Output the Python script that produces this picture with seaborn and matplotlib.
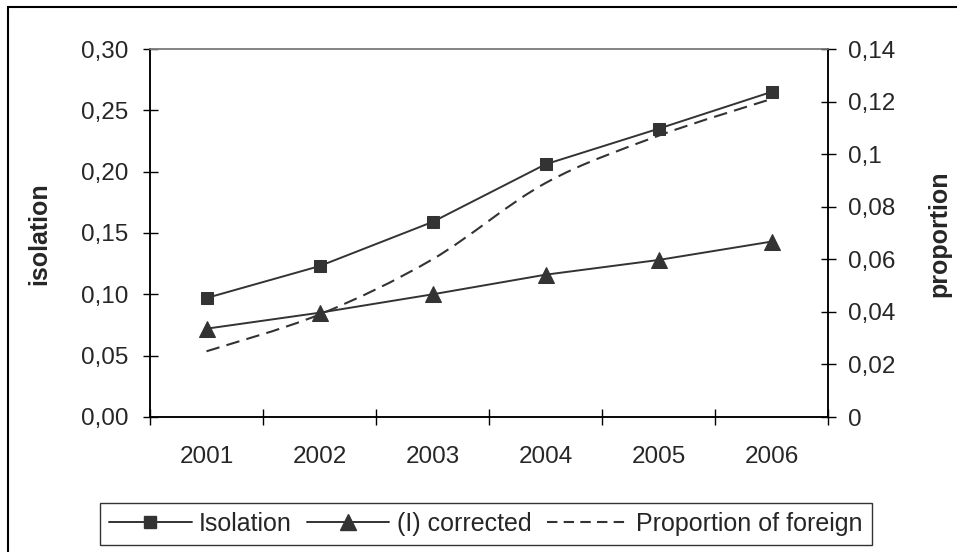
import numpy as np
import matplotlib
matplotlib.use("Agg")
import matplotlib.pyplot as plt
import seaborn as sns
from matplotlib.path import Path
from matplotlib.patches import PathPatch, Rectangle
from matplotlib.lines import Line2D
from matplotlib.ticker import FuncFormatter, FixedLocator

# ------------------------------------------------------------
# data
# ------------------------------------------------------------
years = ["2001", "2002", "2003", "2004", "2005", "2006"]
isolation = [0.097, 0.123, 0.159, 0.206, 0.235, 0.265]
corrected = [0.072, 0.085, 0.100, 0.116, 0.128, 0.143]
proportion = [0.025, 0.039, 0.060, 0.089, 0.107, 0.121]

left_ticks = [0.00, 0.05, 0.10, 0.15, 0.20, 0.25, 0.30]
right_ticks = [0.00, 0.02, 0.04, 0.06, 0.08, 0.10, 0.12, 0.14]
legend_labels = ["Isolation", "(I) corrected", "Proportion of foreign"]

# ------------------------------------------------------------
# style
# ------------------------------------------------------------
sns.set_theme(style="white")
plt.rcParams["font.family"] = ["Liberation Sans", "DejaVu Sans"]
ink = "#333333"
fs = 17.5

W, H = 957, 552
fig = plt.figure(figsize=(W / 100, H / 100), dpi=100)
ax = fig.add_axes([150 / W, (H - 417) / H, 678 / W, 368 / H])
ax2 = ax.twinx()

pos = np.arange(len(years))

sns.lineplot(x=pos, y=isolation, ax=ax, color=ink, lw=1.4, marker="s",
             markersize=9, markeredgecolor=ink, markerfacecolor=ink)
sns.lineplot(x=pos, y=corrected, ax=ax, color=ink, lw=1.4, marker="^",
             markersize=11, markeredgecolor=ink, markerfacecolor=ink)

# smoothed dashed line (Excel style bezier through the points)
px = pos.astype(float)
py = np.array(proportion)
verts = [(px[0], py[0])]
codes = [Path.MOVETO]
n = len(px)
for i in range(n - 1):
    p0 = (px[max(i - 1, 0)], py[max(i - 1, 0)])
    p1 = (px[i], py[i])
    p2 = (px[i + 1], py[i + 1])
    p3 = (px[min(i + 2, n - 1)], py[min(i + 2, n - 1)])
    c1 = (p1[0] + (p2[0] - p0[0]) / 6, p1[1] + (p2[1] - p0[1]) / 6)
    c2 = (p2[0] - (p3[0] - p1[0]) / 6, p2[1] - (p3[1] - p1[1]) / 6)
    verts += [c1, c2, p2]
    codes += [Path.CURVE4] * 3
ax2.add_patch(PathPatch(Path(verts, codes), facecolor="none", edgecolor=ink,
                        lw=1.5, linestyle=(0, (6.5, 3.5))))

# ------------------------------------------------------------
# axes
# ------------------------------------------------------------
ax.set_xlim(-0.5, len(years) - 0.5)
ax.set_ylim(0, 0.30)
ax2.set_ylim(0, 0.14)

ax.xaxis.set_major_locator(FixedLocator(pos))
ax.set_xticklabels(years)
ax.xaxis.set_minor_locator(FixedLocator(np.arange(len(years) + 1) - 0.5))
ax.tick_params(axis="x", which="major", length=0, pad=21, labelsize=fs)
ax.tick_params(axis="x", which="minor", direction="inout", length=12,
               width=1.0, color="black", bottom=True)

ax.set_yticks(left_ticks)
ax.yaxis.set_major_formatter(FuncFormatter(lambda v, p: f"{v:.2f}".replace(".", ",")))
ax.tick_params(axis="y", direction="inout", length=10.8, width=1.0,
               color="black", pad=10.4, labelsize=fs, left=True)

ax2.set_yticks(right_ticks)
ax2.yaxis.set_major_formatter(FuncFormatter(lambda v, p: f"{round(v, 2):g}".replace(".", ",")))
ax2.tick_params(axis="y", direction="inout", length=10.8, width=1.0,
                color="black", pad=9, labelsize=fs, right=True)

for a in (ax, ax2):
    for s in ["left", "bottom", "right"]:
        a.spines[s].set_color("black")
        a.spines[s].set_linewidth(1.1)
    a.spines["top"].set_color("#808080")
    a.spines["top"].set_linewidth(1.1)
    a.grid(False)

ax.set_ylabel("isolation", fontsize=18, fontweight="bold")
ax.yaxis.set_label_coords((51 - 150) / 678, 0.497)
ax2.set_ylabel("proportion", fontsize=18, fontweight="bold")
ax2.yaxis.set_label_coords((927 - 150) / 678, 0.497)

# ------------------------------------------------------------
# legend and outer frame
# ------------------------------------------------------------
handles = [
    Line2D([], [], color=ink, lw=1.4, marker="s", markersize=9),
    Line2D([], [], color=ink, lw=1.4, marker="^", markersize=11),
    Line2D([], [], color=ink, lw=1.5, linestyle=(0, (5, 3))),
]
leg = fig.legend(handles, legend_labels, loc="center",
                 bbox_to_anchor=(486 / W, 1 - 524 / H), ncol=3, fontsize=18,
                 frameon=True, fancybox=False, edgecolor="black",
                 borderpad=0.35, handlelength=3.3, handletextpad=0.3,
                 columnspacing=0.6, borderaxespad=0)
leg.get_frame().set_linewidth(1.0)

fig.patches.append(Rectangle((8 / W, -0.1), 1.2, 1.1 - 7 / H,
                             transform=fig.transFigure, fill=False,
                             edgecolor="black", lw=1.5))

fig.savefig("out.png", dpi=100)
